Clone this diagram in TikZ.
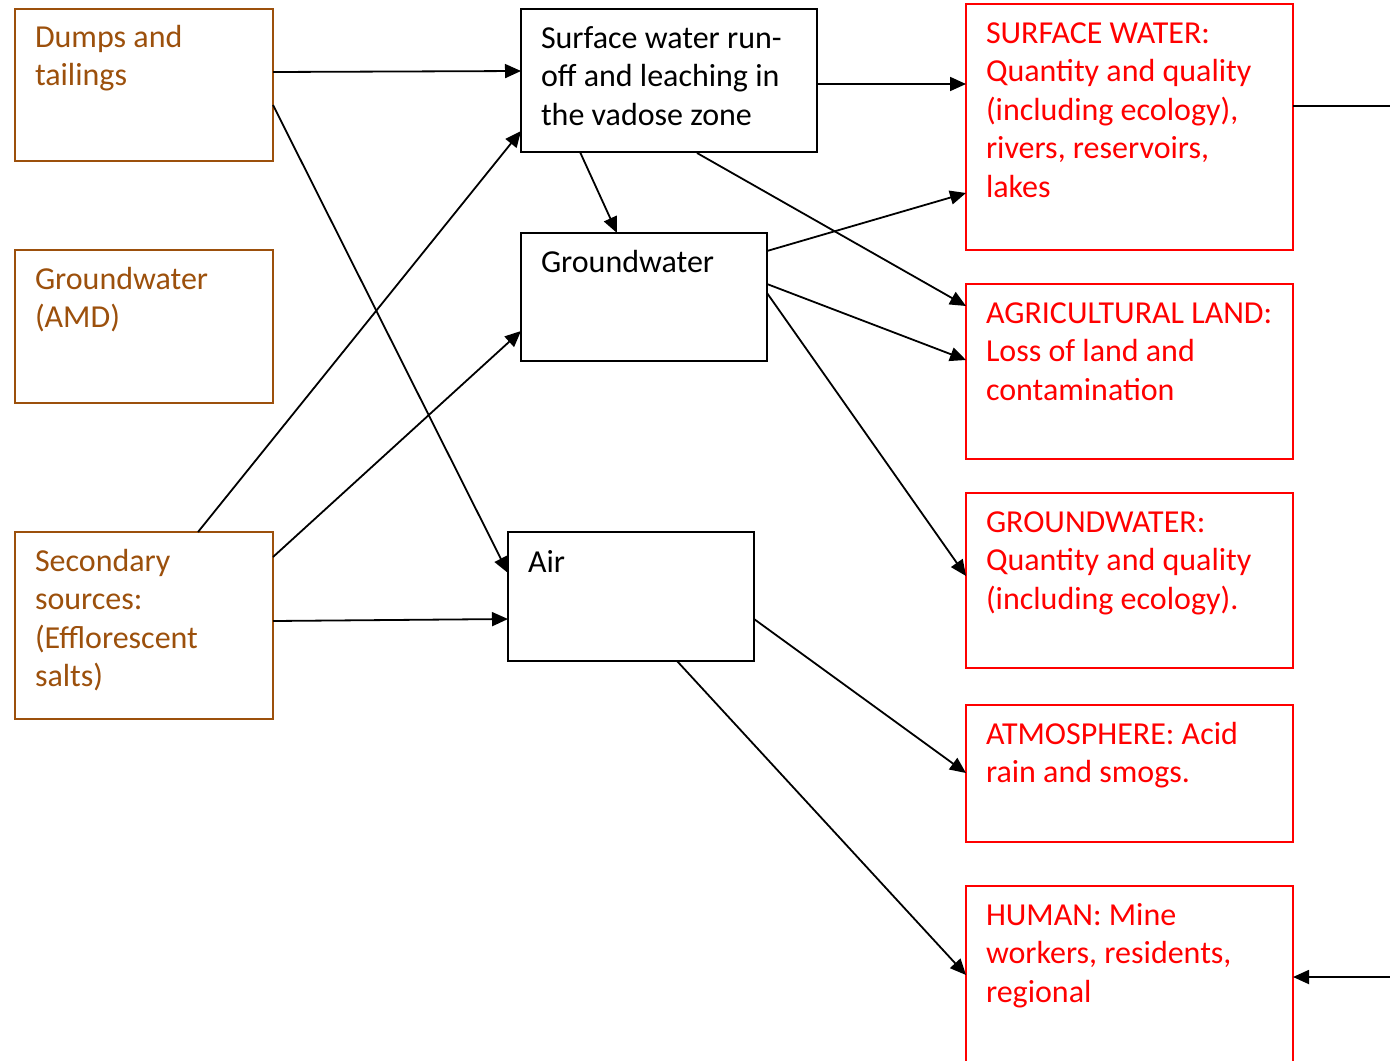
\documentclass[tikz,border=0pt]{standalone}
\usepackage{fontspec}
\setmainfont{Carlito}
\usetikzlibrary{arrows.meta,calc}
\definecolor{brn}{RGB}{156,80,12}
\definecolor{rdc}{RGB}{255,0,0}
\newcommand\fsz{\fontsize{16pt}{19.25pt}\selectfont}
\tikzset{
 bx/.style={draw, line width=1pt, anchor=north west, inner sep=0pt, outer sep=0pt},
 brnbox/.style={bx, draw=brn},
 blkbox/.style={bx, draw=black},
 redbox/.style={bx, draw=rdc},
 lbl/.style={anchor=base west, align=left, inner sep=0pt, outer sep=0pt, font=\fsz},
 con/.style={line width=0.9pt, -{Triangle[length=8pt,width=7pt]}},
 plain/.style={line width=0.9pt},
}
\begin{document}
\begin{tikzpicture}[x=0.5pt,y=-0.5pt]
\clip (0,0) rectangle (1390,1060);
\fill[white] (0,0) rectangle (1390,1060);
% left boxes
\node[brnbox, minimum width=129pt, minimum height=76pt] (dumps) at (15,9) {};
\node[brnbox, minimum width=129pt, minimum height=76.5pt] (amd) at (15,250) {};
\node[brnbox, minimum width=129pt, minimum height=93.5pt] (sec) at (15,532) {};
% middle boxes
\node[blkbox, minimum width=148pt, minimum height=71.5pt] (surf) at (521,9) {};
\node[blkbox, minimum width=123pt, minimum height=64pt] (gw) at (521,233) {};
\node[blkbox, minimum width=123pt, minimum height=64.5pt] (air) at (508,532) {};
% right boxes
\node[redbox, minimum width=163.5pt, minimum height=123pt] (sw) at (966,4) {};
\node[redbox, minimum width=163.5pt, minimum height=87.5pt] (ag) at (966,284) {};
\node[redbox, minimum width=163.5pt, minimum height=87.5pt] (gwr) at (966,493) {};
\node[redbox, minimum width=163.5pt, minimum height=68.5pt] (at) at (966,705) {};
\node[redbox, minimum width=163.5pt, minimum height=95pt] (hu) at (966,886) {};
% labels (anchored at the baseline of the last line)
\node[lbl, text=brn] (dumpsT) at (35,85.5) {Dumps and\\tailings};
\node[lbl, text=brn] (amdT) at (35,327.5) {Groundwater\\(AMD)};
\node[lbl, text=brn] (secT) at (35,686.5) {Secondary\\sources:\\(Efflorescent\\salts)};
\node[lbl] (surfT) at (541,125) {Surface water run-\\off and leaching in\\the vadose zone};
\node[lbl] (gwT) at (541,272) {Groundwater};
\node[lbl] (airT) at (528,572) {Air};
\node[lbl, text=rdc] (swT) at (986,197) {SURFACE WATER:\\Quantity and quality\\(including ecology),\\rivers, reservoirs,\\lakes};
\node[lbl, text=rdc] (agT) at (986,400) {AGRICULTURAL LAND:\\Loss of land and\\contamination};
\node[lbl, text=rdc] (gwrT) at (986,609) {GROUNDWATER:\\Quantity and quality\\(including ecology).};
\node[lbl, text=rdc] (atT) at (986,782.5) {ATMOSPHERE: Acid\\rain and smogs.};
\node[lbl, text=rdc] (huT) at (986,1002) {HUMAN: Mine\\workers, residents,\\regional};
% free ends
\coordinate (swout) at (1390,106);
\coordinate (huin) at (1390,977);
% connectors
\draw[con] ($(dumps.north east)+(0,63)$) -- ($(surf.north west)+(0,62)$);
\draw[con] ($(dumps.north east)+(0,96)$) -- ($(air.north west)+(0,41)$);
\draw[con] ($(sec.north west)+(183,0)$) -- ($(surf.north west)+(0,122)$);
\draw[con] ($(sec.north east)+(0,25)$) -- ($(gw.north west)+(0,98)$);
\draw[con] ($(sec.north east)+(0,89)$) -- ($(air.north west)+(0,87)$);
\draw[con] ($(surf.south west)+(59,0)$) -- ($(gw.north west)+(96,0)$);
\draw[con] ($(surf.north east)+(0,75)$) -- ($(sw.north west)+(0,80)$);
\draw[con] ($(surf.south west)+(176,1)$) -- ($(ag.north west)+(0,22)$);
\draw[con] ($(gw.north east)+(0,18)$) -- ($(sw.north west)+(0,189)$);
\draw[con] ($(gw.north east)+(0,51)$) -- ($(ag.north west)+(0,76)$);
\draw[con] ($(gw.north east)+(0,60)$) -- ($(gwr.north west)+(0,83)$);
\draw[con] ($(air.north east)+(0,87)$) -- ($(at.north west)+(0,68)$);
\draw[con] ($(air.south west)+(169,0)$) -- ($(hu.north west)+(0,89)$);
\draw[plain] ($(sw.north east)+(0,102)$) -- (swout);
\draw[con] (huin) -- ($(hu.north east)+(0,91)$);
\end{tikzpicture}
\end{document}
